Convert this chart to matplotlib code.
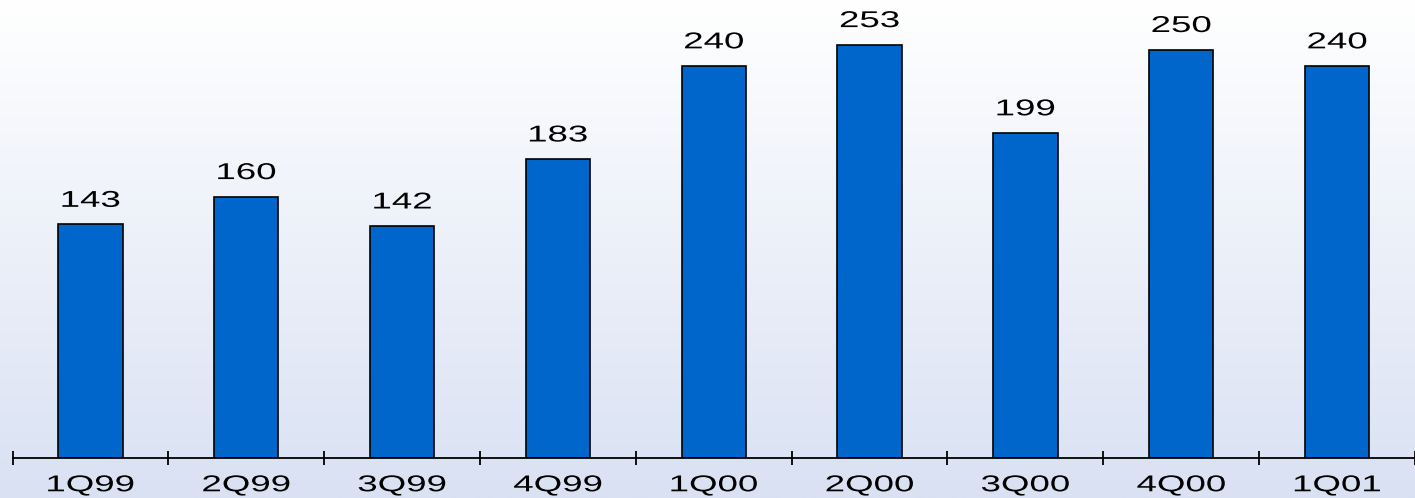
import numpy as np
import matplotlib.pyplot as plt
from matplotlib.patheffects import AbstractPathEffect
from matplotlib.transforms import Affine2D

trimestres = ['1Q99', '2Q99', '3Q99', '4Q99', '1Q00', '2Q00', '3Q00', '4Q00', '1Q01']
valores = [143, 160, 142, 183, 240, 253, 199, 250, 240]

plt.rcParams['font.family'] = ['Liberation Sans', 'DejaVu Sans']


class Estirar(AbstractPathEffect):
    """Ensancha el texto en horizontal alrededor de su centro."""

    def __init__(self, sx):
        super().__init__()
        self.sx = sx

    def draw_path(self, renderer, gc, tpath, affine, rgbFace=None):
        ext = tpath.get_extents(affine)
        cx = (ext.x0 + ext.x1) / 2
        nuevo = affine + Affine2D().translate(-cx, 0).scale(self.sx, 1).translate(cx, 0)
        renderer.draw_path(gc, tpath, nuevo, rgbFace)


fig = plt.figure(figsize=(14.15, 4.98), dpi=100)

# fondo degradado de blanco a azul claro
fondo = fig.add_axes([0, 0, 1, 1], zorder=0)
grad = np.linspace(0, 1, 256).reshape(-1, 1)
arriba = np.array([1.0, 1.0, 1.0])
abajo = np.array([0xd9, 0xe1, 0xf3]) / 255
colores = arriba + (abajo - arriba) * grad[:, :, None]
fondo.imshow(colores, aspect='auto', extent=[0, 1, 0, 1], origin='upper')
fondo.axis('off')

ancho_fig, alto_fig = 1415, 498
ax = fig.add_axes([12.5 / ancho_fig, (alto_fig - 458) / alto_fig,
                   1 - 12.5 / ancho_fig, 458 / alto_fig], zorder=1)
ax.patch.set_alpha(0)

x = np.arange(len(trimestres))
barras = ax.bar(x, valores, width=0.413, color='#0066cc',
                edgecolor='black', linewidth=1.2)

for barra, v in zip(barras, valores):
    ax.annotate(f'{v}', (barra.get_x() + barra.get_width() / 2, v),
                xytext=(0, 9), textcoords='offset points',
                ha='center', va='bottom', fontsize=16.5,
                path_effects=[Estirar(1.6)])

ax.set_xlim(-0.5, -0.5 + (ancho_fig - 12.5) / 157.5)
ax.set_ylim(0, 280.3)

for lado in ['top', 'right', 'left']:
    ax.spines[lado].set_visible(False)
ax.spines['bottom'].set_linewidth(1.3)
ax.set_yticks([])

ax.set_xticks(np.arange(len(trimestres) + 1) - 0.5)
ax.set_xticklabels([])
ax.tick_params(axis='x', which='major', direction='inout', length=10.5, width=1.3)
ax.set_xticks(x, minor=True)
ax.set_xticklabels(trimestres, minor=True, fontsize=16.5)
ax.tick_params(axis='x', which='minor', length=0, pad=11)
for etiqueta in ax.get_xticklabels(minor=True):
    etiqueta.set_path_effects([Estirar(1.6)])

plt.savefig('out.png', dpi=100)
